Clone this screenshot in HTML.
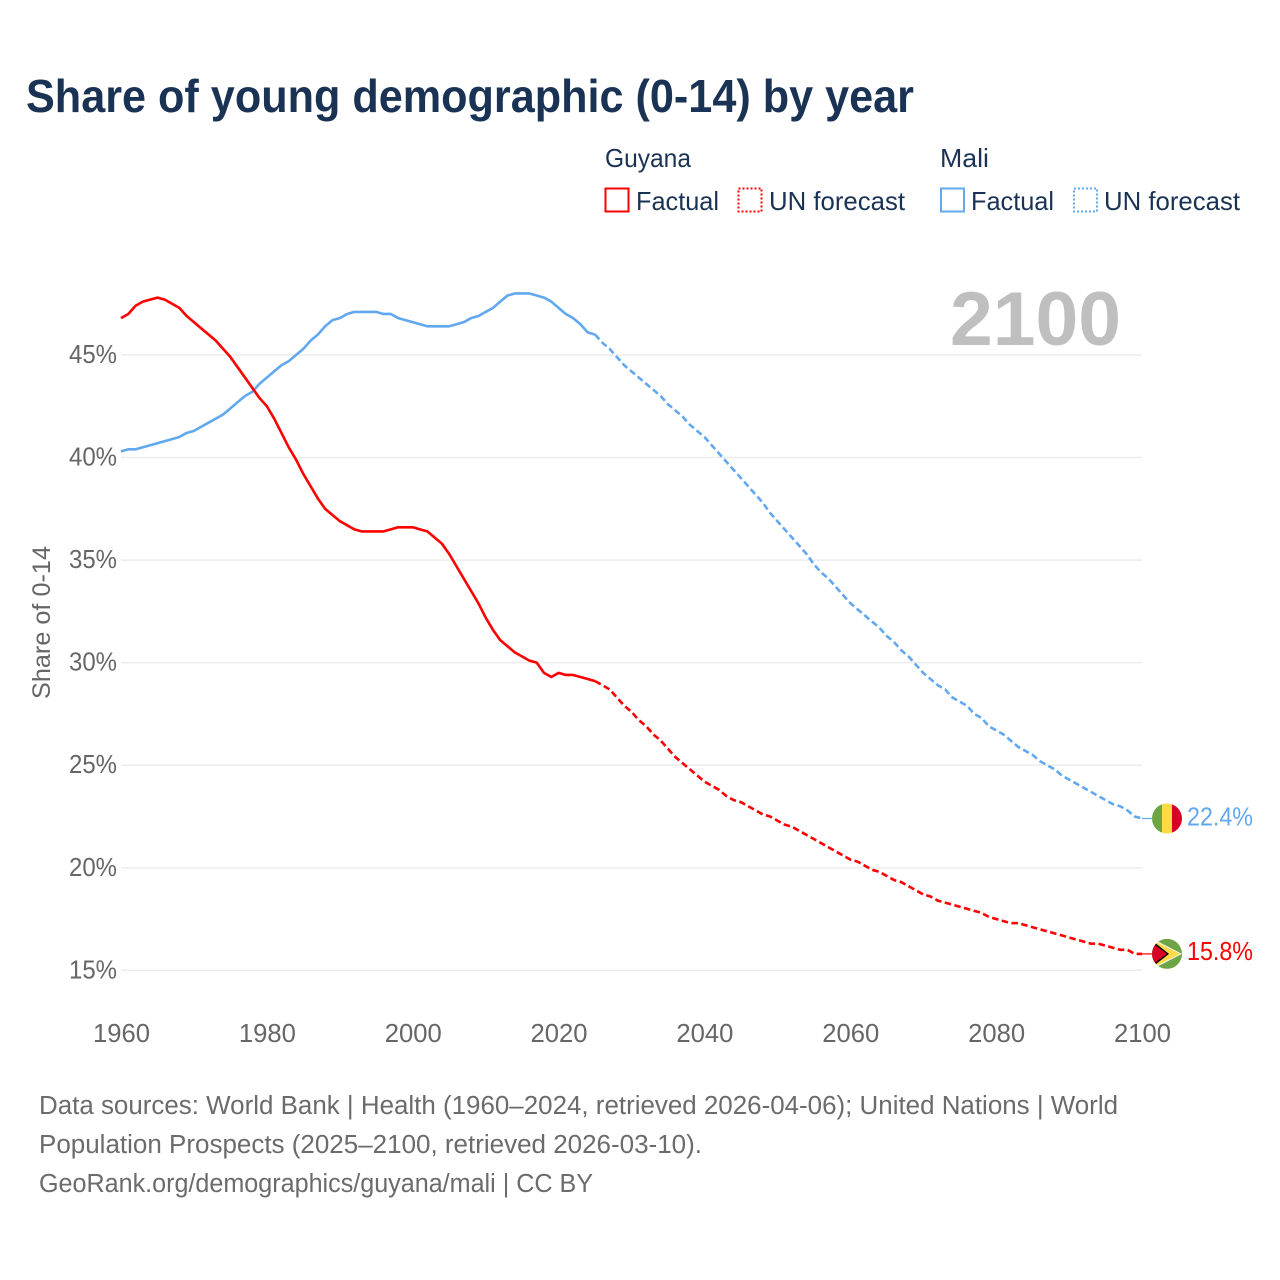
<!DOCTYPE html>
<html lang="en">
<head>
<meta charset="utf-8">
<title>Share of young demographic (0-14) by year</title>
<style>
html,body{margin:0;padding:0;background:#fff;}
svg{display:block;}
text{font-family:"Liberation Sans",sans-serif;}
</style>
</head>
<body>
<svg id="chart" xmlns="http://www.w3.org/2000/svg" width="1280" height="1280" viewBox="0 0 1280 1280">
  <defs>
    <clipPath id="flag-clip"><circle cx="0" cy="0" r="15"></circle></clipPath>
  </defs>
  <rect x="0" y="0" width="1280" height="1280" fill="#ffffff"></rect>
  <text x="26" y="112" font-size="46" font-weight="700" fill="#1a3354" textLength="888" lengthAdjust="spacingAndGlyphs">Share of young demographic (0-14) by year</text>

  <g font-size="26" fill="#1a3354">
    <text x="605" y="167" textLength="86" lengthAdjust="spacingAndGlyphs">Guyana</text>
    <text x="940" y="167" textLength="49" lengthAdjust="spacingAndGlyphs">Mali</text>
    <g>
      <rect x="605.5" y="188.5" width="23" height="23" fill="none" stroke="#ff0000" stroke-width="2"></rect>
      <text x="636" y="210" textLength="83" lengthAdjust="spacingAndGlyphs">Factual</text>
    </g>
    <g>
      <rect x="738.5" y="188.5" width="23" height="23" fill="none" stroke="#ff0000" stroke-width="2" stroke-dasharray="2 2"></rect>
      <text x="769" y="210" textLength="136" lengthAdjust="spacingAndGlyphs">UN forecast</text>
    </g>
    <g>
      <rect x="941" y="188.5" width="23" height="23" fill="none" stroke="#62a8ee" stroke-width="2"></rect>
      <text x="971" y="210" textLength="83" lengthAdjust="spacingAndGlyphs">Factual</text>
    </g>
    <g>
      <rect x="1074" y="188.5" width="23" height="23" fill="none" stroke="#62a8ee" stroke-width="2" stroke-dasharray="2 2"></rect>
      <text x="1104" y="210" textLength="136" lengthAdjust="spacingAndGlyphs">UN forecast</text>
    </g>
  </g>

  <g id="grid"></g>
  <g id="y-labels"></g>
  <g id="x-labels"></g>
  <text transform="translate(50,699) rotate(-90)" font-size="25" fill="#666666" textLength="153" lengthAdjust="spacingAndGlyphs">Share of 0-14</text>
  <text id="year-watermark" x="950" y="345" font-size="76" font-weight="700" fill="#bfbfbf" textLength="171" lengthAdjust="spacingAndGlyphs">2100</text>

  <g id="series"></g>

  <g id="flag-mali" clip-path="url(#flag-clip)">
    <rect x="-15" y="-15" width="10" height="30" fill="#6da544"></rect>
    <rect x="-5" y="-15" width="10" height="30" fill="#ffda44"></rect>
    <rect x="5" y="-15" width="10" height="30" fill="#d80027"></rect>
  </g>
  <g id="flag-guyana" clip-path="url(#flag-clip)">
    <rect x="-15" y="-15" width="30" height="30" fill="#6da544"></rect>
    <polygon points="-12,-14 15,0 -12,14" fill="#f0f0f0"></polygon>
    <polygon points="-12,-12.5 13,0 -12,12.5" fill="#ffda44"></polygon>
    <polygon points="-12,-11 2,0 -12,11" fill="#000000"></polygon>
    <polygon points="-17,-12.5 0,0 -17,12.5" fill="#d80027"></polygon>
  </g>
  <text id="label-mali" x="1187" font-size="26" fill="#62a8ee" textLength="66" lengthAdjust="spacingAndGlyphs"></text>
  <text id="label-guyana" x="1187" font-size="26" fill="#ff0000" textLength="66" lengthAdjust="spacingAndGlyphs"></text>

  <g font-size="25.5" fill="#6b6b6b">
    <text x="39" y="1114" textLength="1079" lengthAdjust="spacingAndGlyphs">Data sources: World Bank | Health (1960–2024, retrieved 2026-04-06); United Nations | World</text>
    <text x="39" y="1153" textLength="663" lengthAdjust="spacingAndGlyphs">Population Prospects (2025–2100, retrieved 2026-03-10).</text>
    <text x="39" y="1192" textLength="554" lengthAdjust="spacingAndGlyphs">GeoRank.org/demographics/guyana/mali | CC BY</text>
  </g>
</svg>
<script>
const factualYears = [1960,1961,1962,1963,1964,1965,1966,1967,1968,1969,1970,1971,1972,1973,1974,1975,1976,1977,1978,1979,1980,1981,1982,1983,1984,1985,1986,1987,1988,1989,1990,1991,1992,1993,1994,1995,1996,1997,1998,1999,2000,2001,2002,2003,2004,2005,2006,2007,2008,2009,2010,2011,2012,2013,2014,2015,2016,2017,2018,2019,2020,2021,2022,2023,2024,2025];
const forecastYears = [2025,2026,2027,2028,2029,2030,2031,2032,2033,2034,2035,2036,2037,2038,2039,2040,2041,2042,2043,2044,2045,2046,2047,2048,2049,2050,2051,2052,2053,2054,2055,2056,2057,2058,2059,2060,2061,2062,2063,2064,2065,2066,2067,2068,2069,2070,2071,2072,2073,2074,2075,2076,2077,2078,2079,2080,2081,2082,2083,2084,2085,2086,2087,2088,2089,2090,2091,2092,2093,2094,2095,2096,2097,2098,2099,2100];
const guyanaFactual = [46.8,47.0,47.4,47.6,47.7,47.8,47.7,47.5,47.3,46.9,46.6,46.3,46.0,45.7,45.3,44.9,44.4,43.9,43.4,42.9,42.5,41.9,41.2,40.5,39.9,39.2,38.6,38.0,37.5,37.2,36.9,36.7,36.5,36.4,36.4,36.4,36.4,36.5,36.6,36.6,36.6,36.5,36.4,36.1,35.8,35.3,34.7,34.1,33.5,32.9,32.2,31.6,31.1,30.8,30.5,30.3,30.1,30.0,29.5,29.3,29.5,29.4,29.4,29.3,29.2,29.1];
const guyanaForecast = [29.1,28.9,28.7,28.3,27.9,27.6,27.2,26.9,26.5,26.2,25.8,25.4,25.1,24.8,24.5,24.2,24.0,23.8,23.5,23.3,23.2,23.0,22.8,22.6,22.5,22.3,22.1,22.0,21.8,21.6,21.4,21.2,21.0,20.8,20.6,20.4,20.3,20.1,19.9,19.8,19.6,19.4,19.3,19.1,18.9,18.7,18.6,18.4,18.3,18.2,18.1,18.0,17.9,17.8,17.6,17.5,17.4,17.3,17.3,17.2,17.1,17.0,16.9,16.8,16.7,16.6,16.5,16.4,16.3,16.3,16.2,16.1,16.0,16.0,15.8,15.8];
const maliFactual = [40.3,40.4,40.4,40.5,40.6,40.7,40.8,40.9,41.0,41.2,41.3,41.5,41.7,41.9,42.1,42.4,42.7,43.0,43.2,43.6,43.9,44.2,44.5,44.7,45.0,45.3,45.7,46.0,46.4,46.7,46.8,47.0,47.1,47.1,47.1,47.1,47.0,47.0,46.8,46.7,46.6,46.5,46.4,46.4,46.4,46.4,46.5,46.6,46.8,46.9,47.1,47.3,47.6,47.9,48.0,48.0,48.0,47.9,47.8,47.6,47.3,47.0,46.8,46.5,46.1,46.0];
const maliForecast = [46.0,45.6,45.3,44.9,44.5,44.2,43.9,43.6,43.3,43.0,42.6,42.3,42.0,41.6,41.3,41.0,40.6,40.2,39.8,39.4,39.0,38.6,38.2,37.8,37.3,36.9,36.5,36.1,35.7,35.3,34.8,34.4,34.1,33.7,33.3,32.9,32.6,32.3,32.0,31.7,31.3,31.0,30.6,30.3,29.9,29.5,29.2,28.9,28.7,28.3,28.1,27.9,27.5,27.3,26.9,26.7,26.5,26.2,25.9,25.7,25.5,25.2,25.0,24.8,24.5,24.3,24.1,23.9,23.7,23.5,23.3,23.1,23.0,22.8,22.5,22.4];
const xTickYears = [1960,1980,2000,2020,2040,2060,2080,2100];
const yTickValues = [15,20,25,30,35,40,45];

const SVG_NS = 'http://www.w3.org/2000/svg';
const X0 = 121, X1 = 1142, Y15 = 970.3, Y45 = 355;
function xScale(year) { return X0 + (year - 1960) * (X1 - X0) / 140; }
function yScale(value) { return Y45 + (45 - value) * (Y15 - Y45) / 30; }
function pathFor(years, values) {
  return values.map(function (v, i) {
    return (i ? 'L' : 'M') + xScale(years[i]).toFixed(2) + ' ' + yScale(v).toFixed(2);
  }).join(' ');
}

const gridGroup = document.getElementById('grid');
const yLabelGroup = document.getElementById('y-labels');
yTickValues.forEach(function (v) {
  const line = document.createElementNS(SVG_NS, 'line');
  
  
  line.setAttribute('x1', X0);
  line.setAttribute('x2', X1);
  line.setAttribute('y1', yScale(v));
  line.setAttribute('y2', yScale(v));
  line.setAttribute('stroke', '#ececec');
  line.setAttribute('stroke-width', '1.5');
  gridGroup.appendChild(line);

  const label = document.createElementNS(SVG_NS, 'text');
  
  
  label.setAttribute('x', 69);
  label.setAttribute('y', yScale(v) + 8);
  label.setAttribute('font-size', '25.5');
  label.setAttribute('fill', '#666666');
  label.setAttribute('textLength', '48');
  label.setAttribute('lengthAdjust', 'spacingAndGlyphs');
  label.textContent = v + '%';
  yLabelGroup.appendChild(label);
});

const xLabelGroup = document.getElementById('x-labels');
xTickYears.forEach(function (year) {
  const label = document.createElementNS(SVG_NS, 'text');
  
  
  label.setAttribute('x', xScale(year) - 28);
  label.setAttribute('y', 1042);
  label.setAttribute('font-size', '25.5');
  label.setAttribute('fill', '#666666');
  label.setAttribute('textLength', '57');
  label.setAttribute('lengthAdjust', 'spacingAndGlyphs');
  label.textContent = year;
  xLabelGroup.appendChild(label);
});

const seriesGroup = document.getElementById('series');
function addLine(name, d, color, dash, width) {
  const path = document.createElementNS(SVG_NS, 'path');
  
  
  path.setAttribute('d', d);
  path.setAttribute('fill', 'none');
  path.setAttribute('stroke', color);
  path.setAttribute('stroke-width', width);
  path.setAttribute('stroke-linejoin', 'round');
  if (dash) path.setAttribute('stroke-dasharray', dash);
  seriesGroup.appendChild(path);
}
const RED = '#ff0000', BLUE = '#62a8ee', FLAG_X = 1167;
addLine('mali-factual-line', pathFor(factualYears, maliFactual), BLUE, null, 2.6);
addLine('mali-forecast-line', pathFor(forecastYears, maliForecast), BLUE, '6.5 3.5', 2.6);
addLine('guyana-factual-line', pathFor(factualYears, guyanaFactual), RED, null, 2.6);
addLine('guyana-forecast-line', pathFor(forecastYears, guyanaForecast), RED, '6.5 3.5', 2.6);

const maliLast = maliForecast[maliForecast.length - 1];
const guyanaLast = guyanaForecast[guyanaForecast.length - 1];
addLine('mali-flag-connector', 'M' + X1 + ' ' + yScale(maliLast) + ' L' + (FLAG_X - 15) + ' ' + yScale(maliLast), BLUE, null, 1.2);
addLine('guyana-flag-connector', 'M' + X1 + ' ' + yScale(guyanaLast) + ' L' + (FLAG_X - 15) + ' ' + yScale(guyanaLast), RED, null, 1.2);

document.getElementById('flag-mali').setAttribute('transform', 'translate(' + FLAG_X + ',' + yScale(maliLast) + ')');
document.getElementById('flag-guyana').setAttribute('transform', 'translate(' + FLAG_X + ',' + yScale(guyanaLast) + ')');
const labelMali = document.getElementById('label-mali');
labelMali.setAttribute('y', yScale(maliLast) + 7);
labelMali.textContent = maliLast.toFixed(1) + '%';
const labelGuyana = document.getElementById('label-guyana');
labelGuyana.setAttribute('y', yScale(guyanaLast) + 6);
labelGuyana.textContent = guyanaLast.toFixed(1) + '%';
</script>
</body>
</html>
